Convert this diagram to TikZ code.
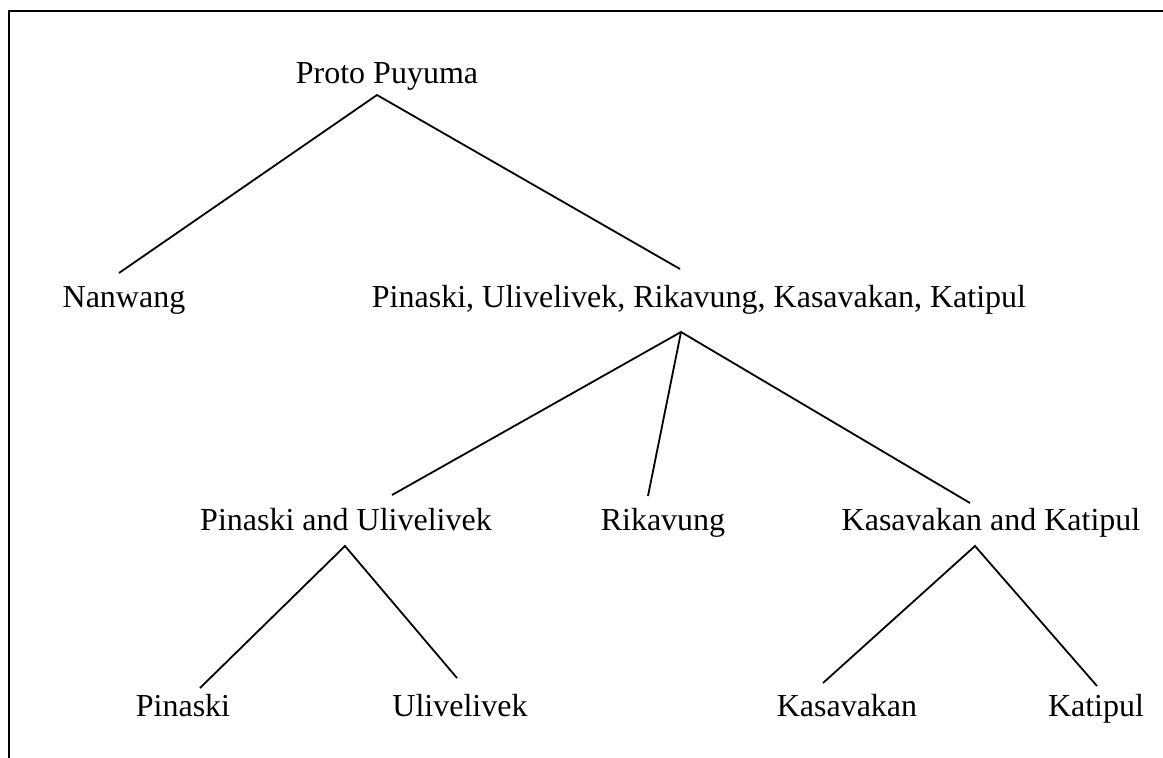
\documentclass[tikz,border=0pt]{standalone}
\usepackage{fontspec}
\setmainfont{Liberation Serif}
\begin{document}
\begin{tikzpicture}[x=1pt,y=-1pt,
  lang/.style={anchor=base,inner sep=0pt,font=\fontsize{32}{38}\selectfont},
  branch/.style={line width=1.8pt},
  frame/.style={line width=2.4pt}]
\useasboundingbox (0,0) rectangle (1163,758);
% open frame: top and left edges
\draw[frame] (9,758) -- (9,11) -- (1163,11);

% labels
\node[lang] (pp)   at (387,83)  {Proto Puyuma};
\node[lang] (nw)   at (124,307) {Nanwang};
\node[lang] (rest) at (699,307) {Pinaski, Ulivelivek, Rikavung, Kasavakan, Katipul};
\node[lang] (pu)   at (346,530) {Pinaski and Ulivelivek};
\node[lang] (rk)   at (663,530) {Rikavung};
\node[lang] (kk)   at (991,530) {Kasavakan and Katipul};
\node[lang] (pin)  at (183,716) {Pinaski};
\node[lang] (uli)  at (460,716) {Ulivelivek};
\node[lang] (kas)  at (847,716) {Kasavakan};
\node[lang] (kat)  at (1096,716) {Katipul};

% branch points below each parent and line ends above each child
\coordinate (pp-d)   at (377,95);
\coordinate (nw-u)   at (119,273);
\coordinate (rest-u) at (680,269);
\coordinate (rest-d) at (681,332);
\coordinate (pu-u)   at (392,495);
\coordinate (rk-u)   at (648,496);
\coordinate (kk-u)   at (970,503);
\coordinate (pu-d)   at (345,546);
\coordinate (kk-d)   at (975,546);
\coordinate (pin-u)  at (200,688);
\coordinate (uli-u)  at (457,678);
\coordinate (kas-u)  at (823,683);
\coordinate (kat-u)  at (1097,686);

\draw[branch] (nw-u) -- (pp-d) -- (rest-u);
\draw[branch] (pu-u) -- (rest-d) -- (kk-u);
\draw[branch] (rest-d) -- (rk-u);
\draw[branch] (pin-u) -- (pu-d) -- (uli-u);
\draw[branch] (kas-u) -- (kk-d) -- (kat-u);
\end{tikzpicture}
\end{document}
